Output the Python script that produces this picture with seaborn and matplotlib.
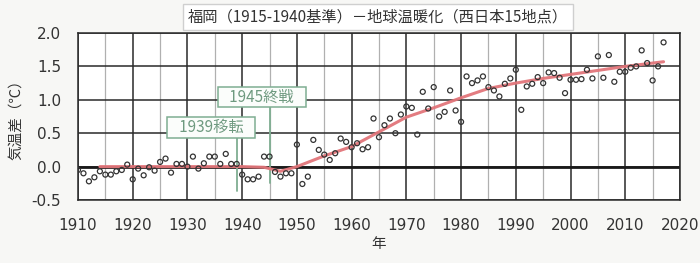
import numpy as np
import pandas as pd
import matplotlib
matplotlib.use("Agg")
import matplotlib.pyplot as plt
import seaborn as sns
from matplotlib import font_manager

# ---- data ----
years = list(range(1910, 2018))
anomaly = [
    -0.05, -0.10, -0.22, -0.16, -0.07, -0.12, -0.12, -0.07, -0.05, 0.03,   # 1910-1919
    -0.19, -0.03, -0.13, -0.01, -0.06, 0.07, 0.12, -0.09, 0.04, 0.04,      # 1920-1929
    0.00, 0.15, -0.03, 0.05, 0.15, 0.15, 0.04, 0.19, 0.04, 0.04,           # 1930-1939
    -0.12, -0.19, -0.19, -0.15, 0.15, 0.15, -0.08, -0.15, -0.10, -0.10,    # 1940-1949
    0.33, -0.26, -0.15, 0.40, 0.25, 0.18, 0.10, 0.20, 0.42, 0.37,          # 1950-1959
    0.29, 0.35, 0.26, 0.29, 0.72, 0.44, 0.62, 0.72, 0.50, 0.78,            # 1960-1969
    0.90, 0.88, 0.48, 1.12, 0.87, 1.19, 0.75, 0.82, 1.14, 0.84,            # 1970-1979
    0.67, 1.35, 1.25, 1.29, 1.35, 1.19, 1.14, 1.05, 1.24, 1.32,            # 1980-1989
    1.45, 0.85, 1.20, 1.24, 1.34, 1.25, 1.41, 1.40, 1.33, 1.10,            # 1990-1999
    1.30, 1.30, 1.31, 1.45, 1.32, 1.65, 1.33, 1.67, 1.27, 1.42,            # 2000-2009
    1.42, 1.48, 1.50, 1.74, 1.55, 1.29, 1.50, 1.86,                        # 2010-2017
]
trend_years = [1914, 1920, 1925, 1930, 1935, 1940, 1944, 1947, 1950, 1955, 1960,
               1965, 1970, 1975, 1980, 1985, 1990, 1995, 2000, 2005, 2010, 2017]
trend_vals = [0.0, 0.0, 0.0, 0.0, 0.0, 0.0, -0.01, -0.07, 0.0, 0.16, 0.30,
              0.52, 0.74, 0.88, 1.03, 1.17, 1.25, 1.32, 1.38, 1.44, 1.50, 1.57]
event_years = [1939, 1945]
event_labels = ["1939移転", "1945終戦"]
title = "福岡（1915-1940基準）－地球温暖化（西日本15地点）"
xlabel = "年"
ylabel = "気温差（℃）"

df = pd.DataFrame({"year": years, "anomaly": anomaly})
tr = pd.DataFrame({"year": trend_years, "trend": trend_vals})

sns.set_theme(style="white")
names = {f.name for f in font_manager.fontManager.ttflist}
narrow = "Liberation Sans Narrow" if "Liberation Sans Narrow" in names else "DejaVu Sans"
plt.rcParams["font.family"] = ["Noto Sans CJK JP", "DejaVu Sans"]

bg = "#f7f7f5"
fig = plt.figure(figsize=(7.0, 2.63), dpi=100, facecolor=bg)
ax = fig.add_axes([0.1114, 0.2395, 0.8600, 0.6350])
ax.set_facecolor("white")

ax.set_xlim(1910, 2020)
ax.set_ylim(-0.5, 2.0)
ax.set_xticks(np.arange(1910, 2021, 10))
ax.set_xticks(np.arange(1915, 2020, 10), minor=True)
yt = np.arange(-0.5, 2.01, 0.5)
ax.set_yticks(yt)
ax.grid(which="major", axis="both", color="#2a2a2a", linewidth=1.1)
ax.grid(which="minor", axis="x", color="#b0b0b0", linewidth=0.9)
ax.axhline(0, color="#1a1a1a", linewidth=2.0, zorder=1)
for s in ax.spines.values():
    s.set_color("#2a2a2a")
    s.set_linewidth(1.1)

sns.lineplot(data=tr, x="year", y="trend", ax=ax, color="#e2757a",
             linewidth=2.2, zorder=3, alpha=0.95)
sns.scatterplot(data=df, x="year", y="anomaly", ax=ax, marker="o", s=13,
                facecolor="none", edgecolor="#333333", linewidth=0.9, zorder=4)

# event markers
ev_box_y = [0.59, 1.04]
ev_box_x = [1934.3, 1943.6]
ev_line_bottom = [-0.37, -0.24]
for yr, lab, by, bx, lb in zip(event_years, event_labels, ev_box_y, ev_box_x, ev_line_bottom):
    ax.plot([yr, yr], [by - 0.14, lb], color="#7fae92", linewidth=1.3, zorder=2)
    ax.text(bx, by, "   " + lab + "   ", ha="center", va="center",
            fontsize=11, color="#6f9a80", zorder=5,
            family=["Noto Sans CJK JP", "DejaVu Sans"],
            bbox=dict(boxstyle="square,pad=0.12", facecolor="#fbfdfb",
                      edgecolor="#7fae92", linewidth=1.1))

ax.set_xlabel(xlabel, fontsize=10.5, color="#333333", labelpad=3)
ax.set_ylabel(ylabel, fontsize=10.5, color="#333333", labelpad=6)
ax.tick_params(axis="both", which="both", length=0, labelsize=11,
               colors="#333333")
ax.tick_params(axis="x", pad=13)
ax.tick_params(axis="y", pad=12)
ax.tick_params(axis="x", which="minor", labelbottom=False)
ax.set_yticklabels([f"{v:.1f}" for v in yt])
for lbl in ax.get_xticklabels() + ax.get_yticklabels():
    lbl.set_family([narrow, "DejaVu Sans"])

fig.text(0.54, 0.935, title, ha="center", va="center", fontsize=11,
         color="#333333", family=["Noto Sans CJK JP", "DejaVu Sans"],
         bbox=dict(boxstyle="square,pad=0.3", facecolor="white",
                   edgecolor="#cfcfcf", linewidth=1.0))

fig.savefig("out.png", dpi=100, facecolor=bg)
